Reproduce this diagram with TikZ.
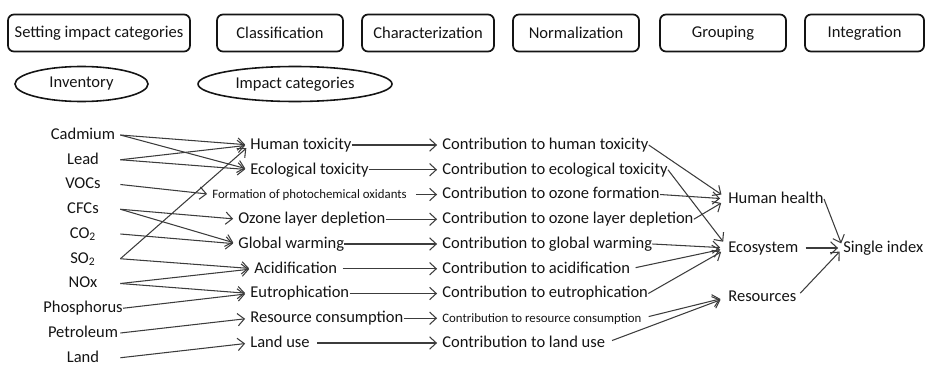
\documentclass[tikz,border=0pt]{standalone}
\usepackage{fontspec}
\setmainfont{Carlito}
\usepackage{tikz}
\usetikzlibrary{calc,backgrounds}
\usetikzlibrary{shapes.geometric,arrows.meta}
\definecolor{ink} {RGB} {20, 20, 20}
\definecolor{wire} {RGB} {60, 60, 60}
\newcommand{\lcasmall}{\fontsize{7.3}{9}\selectfont}
\tikzstyle{lca}=[
  >={Straight Barb[length=3.8pt,width=7pt]}, font=\fontsize{9.4}{11}\selectfont, text=ink
]
\tikzstyle{stagebox}=[
  draw=ink, line width=1pt, rounded corners=0.12cm, minimum height=0.74cm, minimum width=2.52cm
]
\tikzstyle{levelell}=[
  draw=ink, line width=0.9pt, ellipse, minimum height=0.7cm, inner sep=0pt
]
\tikzstyle{lcaterm}=[
  inner sep=0pt, text height=7pt, text depth=2pt
]
\tikzstyle{invterm}=[
  lcaterm, minimum width=1.48cm
]
\tikzstyle{catterm}=[
  lcaterm, anchor=west
]
\tikzstyle{lcaedge}=[
  ->, draw=wire, line width=0.6pt, shorten >=2.8pt
]

\begin{document}
\begin{tikzpicture}[lca]
\useasboundingbox (0,0) rectangle (18.5,-7.36);

\node (set) [stagebox, minimum width=3.64cm] at (1.98, -0.66) {Setting impact categories};
\node (cls) [stagebox] at ($(set) + (3.62, 0.0)$) {Classification};
\node (chr) [stagebox, minimum width=2.64cm] at ($(cls) + (2.96, 0.0)$) {Characterization};
\node (nrm) [stagebox] at ($(chr) + (2.96, 0.0)$) {Normalization};
\node (grp) [stagebox] at ($(nrm) + (2.94, 0.0)$) {Grouping};
\node (intg) [stagebox, minimum width=2.38cm] at ($(grp) + (2.83, 0.0)$) {Integration};

\node (inv) [levelell, minimum width=2.66cm] at (1.63, -1.68) {Inventory};
\node (imp) [levelell, minimum width=3.88cm] at ($(inv) + (4.27, 0.0)$) {Impact categories};

\node (cd) [invterm] at (1.66, -2.7) {Cadmium};
\node (pb) [invterm] at ($(cd) + (0.0, -0.495)$) {Lead};
\node (voc) [invterm] at ($(pb) + (0.0, -0.495)$) {VOCs};
\node (cfc) [invterm] at ($(voc) + (0.0, -0.495)$) {CFCs};
\node (co2) [invterm] at ($(cfc) + (0.0, -0.495)$) {CO\textsubscript{2}};
\node (so2) [invterm] at ($(co2) + (0.0, -0.495)$) {SO\textsubscript{2}};
\node (nox) [invterm] at ($(so2) + (0.0, -0.495)$) {NOx};
\node (p) [invterm] at ($(nox) + (0.0, -0.495)$) {Phosphorus};
\node (oil) [invterm] at ($(p) + (0.0, -0.495)$) {Petroleum};
\node (land) [invterm] at ($(oil) + (0.0, -0.495)$) {Land};

\node (ht) [catterm] at (5.0, -2.9) {Human toxicity};
\node (et) [catterm] at ($(ht.west) + (0.0, -0.495)$) {Ecological toxicity};
\node (pox) [catterm, font=\lcasmall] at ($(et.west) + (-0.76, -0.495)$) {Formation of photochemical oxidants};
\node (old) [catterm] at ($(pox.west) + (0.52, -0.495)$) {Ozone layer depletion};
\node (gw) [catterm] at ($(old.west) + (0.0, -0.495)$) {Global warming};
\node (ac) [catterm] at ($(gw.west) + (0.32, -0.495)$) {Acidification};
\node (eu) [catterm] at ($(ac.west) + (-0.08, -0.495)$) {Eutrophication};
\node (rc) [catterm] at ($(eu.west) + (0.0, -0.495)$) {Resource consumption};
\node (lu) [catterm] at ($(rc.west) + (0.0, -0.495)$) {Land use};

\node (cht) [catterm] at (8.84, -2.9) {Contribution to human toxicity};
\node (cet) [catterm] at ($(cht.west) + (0.0, -0.495)$) {Contribution to ecological toxicity};
\node (cpox) [catterm] at ($(cet.west) + (0.0, -0.495)$) {Contribution to ozone formation};
\node (cold) [catterm] at ($(cpox.west) + (0.0, -0.495)$) {Contribution to ozone layer depletion};
\node (cgw) [catterm] at ($(cold.west) + (0.0, -0.495)$) {Contribution to global warming};
\node (cac) [catterm] at ($(cgw.west) + (0.0, -0.495)$) {Contribution to acidification};
\node (ceu) [catterm] at ($(cac.west) + (0.0, -0.495)$) {Contribution to eutrophication};
\node (crc) [catterm, font=\lcasmall] at ($(ceu.west) + (0.0, -0.495)$) {Contribution to resource consumption};
\node (clu) [catterm] at ($(crc.west) + (0.0, -0.495)$) {Contribution to land use};

\node (hh) [catterm] at (14.56, -3.98) {Human health};
\node (eco) [catterm] at ($(hh.west) + (0.0, -0.98)$) {Ecosystem};
\node (res) [catterm] at ($(eco.west) + (0.0, -0.98)$) {Resources};
\node (idx) [catterm] at ($(eco.west) + (2.3, 0.0)$) {Single index};

\begin{scope}[on background layer]
\draw [lcaedge] (cd.east) -- (ht.west);
\draw [lcaedge] (cd.east) -- (et.west);
\draw [lcaedge] (pb.east) -- (ht.west);
\draw [lcaedge] (pb.east) -- (et.west);
\draw [lcaedge] (voc.east) -- (pox.west);
\draw [lcaedge] (cfc.east) -- (old.west);
\draw [lcaedge] (cfc.east) -- (gw.west);
\draw [lcaedge] (co2.east) -- (gw.west);
\draw [lcaedge] (so2.east) -- (ht.west);
\draw [lcaedge] (so2.east) -- (ac.west);
\draw [lcaedge] (nox.east) -- (ac.west);
\draw [lcaedge] (nox.east) -- (eu.west);
\draw [lcaedge] (p.east) -- (eu.west);
\draw [lcaedge] (oil.east) -- (rc.west);
\draw [lcaedge] (land.east) -- (lu.west);

\draw [lcaedge] (ht.east) -- (cht.west);
\draw [lcaedge] (et.east) -- (cet.west);
\draw [lcaedge, shorten <=5pt] (pox.east) -- (cpox.west);
\draw [lcaedge] (old.east) -- (cold.west);
\draw [lcaedge] (gw.east) -- (cgw.west);
\draw [lcaedge, shorten <=3pt] (ac.east) -- (cac.west);
\draw [lcaedge] (eu.east) -- (ceu.west);
\draw [lcaedge] (rc.east) -- (crc.west);
\draw [lcaedge, shorten <=4pt] (lu.east) -- (clu.west);

\draw [lcaedge, shorten >=4.5pt] (cht.east) -- (hh.west);
\draw [lcaedge, shorten >=4.5pt] (cet.east) -- (eco.west);
\draw [lcaedge, shorten >=4.5pt] (cpox.east) -- (hh.west);
\draw [lcaedge, shorten >=4.5pt] (cold.east) -- (hh.west);
\draw [lcaedge, shorten >=4.5pt] (cgw.east) -- (eco.west);
\draw [lcaedge, shorten >=4.5pt, shorten <=3pt] (cac.east) -- (eco.west);
\draw [lcaedge, shorten >=4.5pt] (ceu.east) -- (eco.west);
\draw [lcaedge, shorten >=4.5pt, shorten <=4pt] (crc.east) -- (res.west);
\draw [lcaedge, shorten >=4.5pt, shorten <=4pt] (clu.east) -- (res.west);

\draw [lcaedge] (hh.east) -- (idx.west);
\draw [lcaedge, shorten <=4pt] (eco.east) -- (idx.west);
\draw [lcaedge, shorten <=3pt] (res.east) -- (idx.west);
\end{scope}
\end{tikzpicture}
\end{document}
